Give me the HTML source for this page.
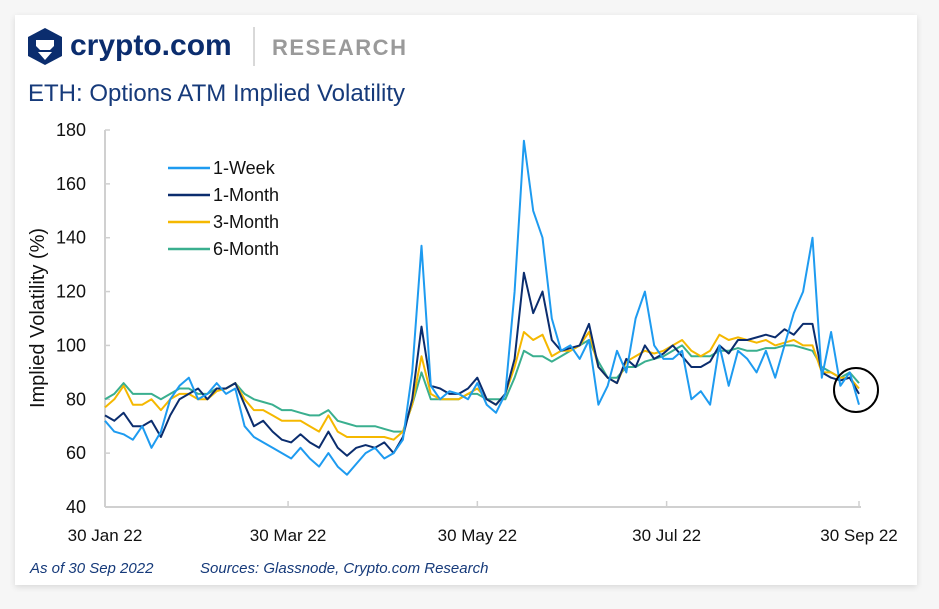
<!DOCTYPE html>
<html><head><meta charset="utf-8">
<style>
body{margin:0;background:#f4f4f4;font-family:"Liberation Sans",sans-serif;}
#wrap{position:relative;width:939px;height:609px;overflow:hidden;background:#f6f6f6;}
#card{position:absolute;left:15px;top:15px;width:902px;height:570px;background:#fff;box-shadow:0 2px 6px rgba(0,0,0,0.12);}
svg{position:absolute;left:0;top:0;}
</style></head><body>
<div id="wrap">
<div id="card"></div>
<svg id="chart" width="939" height="609">
  <g>
    <polygon points="45,28 62,37 62,56 45,65 28,56 28,37" fill="#0b2d6e"/>
    <path d="M36,40 h18 v6 l-4,4 h-10 l-4,-4 z" fill="#fff"/>
    <path d="M38,52 l7,8 l7,-8 z" fill="#fff"/>
    <text x="70" y="55" font-size="30" font-weight="bold" fill="#0b2d6e" font-family="Liberation Sans, sans-serif">crypto.com</text>
    <line x1="254" y1="27" x2="254" y2="66" stroke="#ccc" stroke-width="1.5"/>
    <text x="272" y="55" font-size="22" font-weight="bold" fill="#9a9a9a" letter-spacing="1.5">RESEARCH</text>
  </g>
  <text x="28" y="101" font-size="24" fill="#163a7a">ETH: Options ATM Implied Volatility</text>
  <text transform="translate(44,318) rotate(-90)" text-anchor="middle" font-size="20" fill="#111">Implied Volatility (%)</text>
  <g id="axes"></g>
  <g id="series"></g>
  <g>
    <line x1="168" y1="168" x2="210" y2="168" stroke="#1e9bf0" stroke-width="2.5"/>
    <text x="213" y="174" font-size="18" fill="#111">1-Week</text>
    <line x1="168" y1="195" x2="210" y2="195" stroke="#0b2d6e" stroke-width="2.5"/>
    <text x="213" y="201" font-size="18" fill="#111">1-Month</text>
    <line x1="168" y1="222" x2="210" y2="222" stroke="#f5b800" stroke-width="2.5"/>
    <text x="213" y="228" font-size="18" fill="#111">3-Month</text>
    <line x1="168" y1="249" x2="210" y2="249" stroke="#3aaf8f" stroke-width="2.5"/>
    <text x="213" y="255" font-size="18" fill="#111">6-Month</text>
  </g>
  <circle cx="856" cy="390" r="22" fill="none" stroke="#000" stroke-width="2"/>
  <text x="30" y="573" font-size="15" font-style="italic" fill="#163a7a">As of 30 Sep 2022</text>
  <text x="200" y="573" font-size="15" font-style="italic" fill="#163a7a">Sources: Glassnode, Crypto.com Research</text>
</svg>
</div>
<script>
const xTickLabels = ["30 Jan 22","30 Mar 22","30 May 22","30 Jul 22","30 Sep 22"];
const xTickDays = [0,59,120,181,243];
const yTicks = [40,60,80,100,120,140,160,180];
const stepDays = 3;
const week1 = [72,68,67,65,70,62,68,80,85,88,80,82,86,82,84,70,66,64,62,60,58,62,58,55,60,55,52,56,60,62,58,60,65,90,137,85,80,83,82,80,86,78,75,82,120,176,150,140,110,98,100,95,102,78,85,98,90,110,120,100,95,95,98,80,83,78,100,85,98,95,90,98,88,100,112,120,140,88,105,85,90,78];
const month1 = [74,72,75,70,70,72,66,74,80,82,84,80,84,84,86,78,70,72,68,65,64,67,64,62,68,62,59,62,63,62,64,60,66,80,107,85,84,82,82,84,88,80,78,82,95,127,112,120,102,98,99,100,108,92,88,86,95,92,100,95,97,100,96,92,92,94,100,97,102,102,103,104,103,106,104,108,108,90,88,87,88,82];
const month3 = [77,80,85,78,78,80,76,80,82,82,80,80,83,84,86,80,76,76,74,72,72,72,70,68,74,68,66,66,66,66,66,65,68,78,96,82,80,80,80,82,84,80,78,82,92,105,102,104,96,98,98,100,105,92,88,86,94,96,98,97,98,100,102,98,96,98,104,102,103,102,101,102,100,101,102,100,100,90,90,88,88,84];
const month6 = [80,82,86,82,82,82,80,82,84,84,82,82,84,84,86,82,80,79,78,76,76,75,74,74,76,72,71,70,70,70,69,68,68,78,90,80,80,80,80,82,82,80,80,80,88,98,96,96,94,96,98,100,102,94,88,88,92,92,94,95,96,98,100,96,96,96,98,98,99,98,98,99,99,100,100,99,98,92,90,88,90,86];

const NS="http://www.w3.org/2000/svg";
const X0=105,X1=859,Y0=507,Y1=130;
function xScale(day){return X0+(X1-X0)*day/243;}
function yScale(v){return Y0-(v-40)*(Y0-Y1)/140;}
const axes=document.getElementById('axes');
function mk(tag,attrs,parent){const e=document.createElementNS(NS,tag);for(const k in attrs)e.setAttribute(k,attrs[k]);parent.appendChild(e);return e;}
let l=mk('line',{x1:X0,y1:Y1,x2:X0,y2:Y0,stroke:'#d0d0d0','stroke-width':2},axes);


l=mk('line',{x1:X0,y1:Y0,x2:X1+2,y2:Y0,stroke:'#d0d0d0','stroke-width':2},axes);


yTicks.forEach(v=>{
  const y=yScale(v);
  const t=mk('line',{x1:X0,y1:y,x2:X0+5,y2:y,stroke:'#d0d0d0','stroke-width':1.5},axes);
  
  
  const tx=mk('text',{x:86,y:y+6,'text-anchor':'end','font-size':18,fill:'#111'},axes);
  tx.textContent=v;
  
  
});
xTickDays.forEach((d,i)=>{
  const x=xScale(d);
  const t=mk('line',{x1:x,y1:Y0,x2:x,y2:Y0-6,stroke:'#d0d0d0','stroke-width':1.5},axes);
  
  
  const tx=mk('text',{x:x,y:541,'text-anchor':'middle','font-size':17,fill:'#111'},axes);
  tx.textContent=xTickLabels[i];
  
  
});
const sg=document.getElementById('series');
[[month6,'#3aaf8f','line-6-month'],[month3,'#f5b800','line-3-month'],[month1,'#0b2d6e','line-1-month'],[week1,'#1e9bf0','line-1-week']].forEach(([arr,c,n])=>{
  const pts=arr.map((v,i)=>xScale(Math.min(i*stepDays,243)).toFixed(1)+','+yScale(v).toFixed(1)).join(' ');
  const p=mk('polyline',{points:pts,fill:'none',stroke:c,'stroke-width':2,'stroke-linejoin':'round'},sg);
  
  
});
</script>
</body></html>
